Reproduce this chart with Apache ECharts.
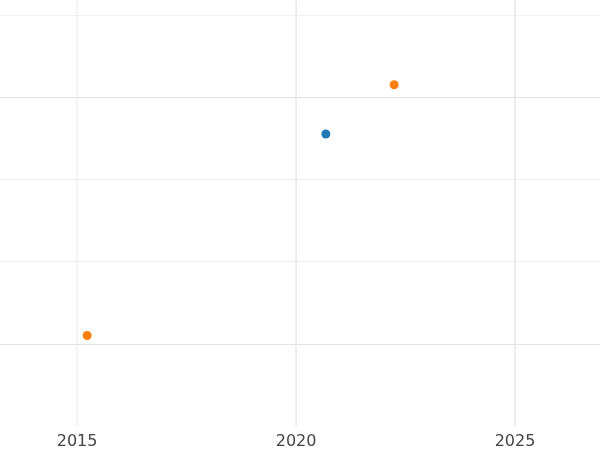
<!DOCTYPE html>
<html>
<head>
<meta charset="utf-8">
<script src="https://cdn.jsdelivr.net/npm/echarts@6/dist/echarts.min.js"></script>
<style>html,body{margin:0;padding:0;background:#fff}#main{width:600px;height:450px}</style>
</head>
<body>
<div id="main"></div>
<script>
const blueYears = [2020.68];
const blueValues = [2.55];
const orangeYears = [2022.24, 2015.23];
const orangeValues = [3.15, 0.10];
const yearTicks = [2015, 2020, 2025];

const chart = echarts.init(document.querySelector("#main"));
chart.setOption({
    animation: false,
    grid: { left: 0, right: 0, top: 0, bottom: 23 },
    xAxis: {
        type: "value", min: 2013.24, max: 2026.94,
        axisLine: { show: false }, axisTick: { show: false },
        axisLabel: {
            color: "#444", fontSize: 16, fontFamily: "DejaVu Sans", margin: 8,
            customValues: yearTicks,
            formatter: (v) => String(Math.round(v))
        },
        splitLine: { show: false }
    },
    yAxis: {
        type: "value", min: -1, max: 4.18, interval: 1,
        axisLine: { show: false }, axisTick: { show: false }, axisLabel: { show: false },
        splitLine: { lineStyle: { color: ["rgba(0,0,0,0)", "#e2e2e2", "#f0f0f0", "#f0f0f0", "#e2e2e2", "#f0f0f0"], width: 1 } }
    },
    series: [
        { type: "line", data: [[2015, -1], [2015, 4.18]], symbol: "none", silent: true,
          lineStyle: { color: "#ebebeb", width: 1 } },
        { type: "line", data: [[2020, -1], [2020, 4.18]], symbol: "none", silent: true,
          lineStyle: { color: "#e8e8e8", width: 1.5 } },
        { type: "line", data: [[2025, -1], [2025, 4.18]], symbol: "none", silent: true,
          lineStyle: { color: "#e8e8e8", width: 1.5 } },
        { type: "scatter", symbolSize: 9, itemStyle: { color: "#1f77b4", opacity: 1 },
          data: blueYears.map((x, i) => [x, blueValues[i]]) },
        { type: "scatter", symbolSize: 9, itemStyle: { color: "#ff7f0e", opacity: 1 },
          data: orangeYears.map((x, i) => [x, orangeValues[i]]) }
    ]
});
</script>
</body>
</html>
